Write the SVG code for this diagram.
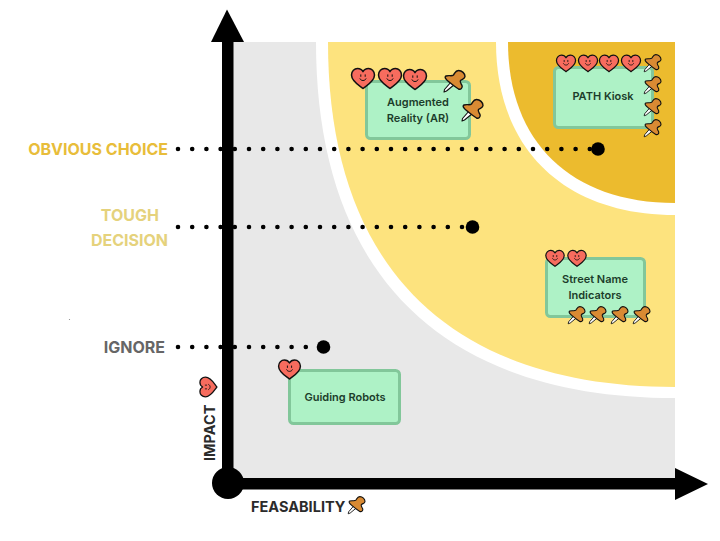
<svg xmlns="http://www.w3.org/2000/svg" width="720" height="541" viewBox="0 0 720 541">
<style>
text{font-family:"Inter","Liberation Sans",sans-serif;font-weight:600}
.card{fill:#aef2c6;stroke:#82c79a;stroke-width:3}
.cl{font-size:11px;fill:#1c3d2b;text-anchor:middle}
.lv{font-size:16px;font-weight:700;text-anchor:end}
.ax{font-size:14.5px;font-weight:700;fill:#2b2b2b}
.dots{fill:none;stroke:#000;stroke-width:4.6;stroke-linecap:round;stroke-dasharray:0 14.2}
.hb{fill:#f76c5e;stroke:#111;stroke-width:1.5;stroke-linejoin:round}
.f{fill:none;stroke:#111;stroke-width:1;stroke-linecap:round}
.pb{fill:#d98a33;stroke:#111;stroke-width:1.4;stroke-linejoin:round}
.pn{fill:#fff;stroke:#111;stroke-width:1.1;stroke-linejoin:round}
</style>
<defs>
<symbol id="heart" overflow="visible">
<path class="hb" d="M0 10.500C-3 8-11.500 3.500-11.500-3C-11.500-7-8.500-9.500-5.500-9.500C-3-9.500-1-8.300 0-6.300C1-8.300 3-9.500 5.500-9.500C8.500-9.500 11.500-7 11.500-3C11.500 3.500 3 8 0 10.500Z"/>
<path class="f" d="M-2.200-3.200v1.600M2.200-3.200v1.600M-3 .8C-2 3.200 2 3.200 3 .8"/>
</symbol>
<symbol id="pin" overflow="visible">
<path class="pn" d="M-3.500 .5L-10.500 8.500L-11 11L-8.500 10L-.5 3.500Z"/>
<path class="pb" d="M-9-5C-6-6-3-4.500-1.500-6C0-8 .5-10.500 3.500-10.500C7-10.500 10-7.500 10-4.500C10-2 7-2 5.500-.5C4.500 1 6 2.500 7 4.500C8 7 5.500 9 3.500 8C0 6-3.500 3-6.500 .5C-9-1.500-11-4-9-5Z"/>
</symbol>
</defs>
<rect width="720" height="541" fill="#fff"/>
<g id="background">
<rect x="233" y="42" width="442" height="436" fill="#e8e8e8"/>
<path d="M316 42C316 274 442 398 675 398V42Z" fill="#fff"/>
<path d="M328 42C328 267 450 387 675 387V42Z" fill="#fde37e"/>
<path d="M496 42C496 149 564 215 675 215V42Z" fill="#fff"/>
<path d="M508 42C508 142 571 203 675 203V42Z" fill="#ecbb2e"/>
<circle cx="69.500" cy="319.500" r=".6" fill="#888"/>
</g>
<g id="connectors">
<path class="dots" d="M178 149H598"/>
<path class="dots" d="M178 227H472"/>
<path class="dots" d="M178 347H324"/>
<circle cx="598" cy="149" r="6.800"/>
<circle cx="472.500" cy="227" r="6.800"/>
<circle cx="323.500" cy="347" r="6.800"/>
</g>
<g id="axes">
<path d="M222 42H233.500V478H675V489.500H228Q222 489.500 222 484Z"/>
<path d="M227 9.500L244 42H211Z"/>
<path d="M675 468L708 484L675 500Z"/>
<circle cx="228" cy="483" r="16"/>
</g>
<g id="level-labels">
<text id="obvious-choice" class="lv" x="168" y="155" fill="#e8bd3a">OBVIOUS CHOICE</text>
<text id="tough-decision" class="lv" fill="#e5d27c"><tspan x="159" y="221">TOUGH</tspan><tspan x="168" y="246">DECISION</tspan></text>
<text id="ignore" class="lv" x="165" y="353" fill="#666">IGNORE</text>
</g>
<g id="augmented-reality">
<rect class="card" x="366.500" y="81.500" width="103" height="57" rx="4"/>
<text class="cl"><tspan x="418" y="106">Augmented</tspan><tspan x="418" y="122">Reality (AR)</tspan></text>
<use href="#heart" x="363" y="78"/><use href="#heart" x="390" y="78"/><use href="#heart" x="415" y="79"/>
<use href="#pin" x="455" y="81"/><use href="#pin" x="473" y="110"/>
</g>
<g id="path-kiosk">
<rect class="card" x="554.500" y="67.500" width="98" height="60" rx="4"/>
<text class="cl" x="603" y="100">PATH Kiosk</text>
<use href="#heart" transform="translate(566 63) scale(.83)"/><use href="#heart" transform="translate(588 63) scale(.83)"/><use href="#heart" transform="translate(609 63) scale(.83)"/><use href="#heart" transform="translate(631 63) scale(.83)"/>
<use href="#pin" transform="translate(653 63) scale(.8)"/><use href="#pin" transform="translate(653 85) scale(.8)"/><use href="#pin" transform="translate(653 107) scale(.8)"/><use href="#pin" transform="translate(653 128) scale(.8)"/>
</g>
<g id="street-name-indicators">
<rect class="card" x="546.500" y="258.500" width="98" height="58" rx="4"/>
<text class="cl"><tspan x="595" y="283">Street Name</tspan><tspan x="595" y="299">Indicators</tspan></text>
<use href="#heart" transform="translate(555 258) scale(.8)"/><use href="#heart" transform="translate(577 258) scale(.8)"/>
<use href="#pin" transform="translate(577 315) scale(.8)"/><use href="#pin" transform="translate(598 315) scale(.8)"/><use href="#pin" transform="translate(620 315) scale(.8)"/><use href="#pin" transform="translate(642 315) scale(.8)"/>
</g>
<g id="guiding-robots">
<rect class="card" x="289.500" y="370.500" width="110" height="53" rx="4"/>
<text class="cl" x="345" y="401">Guiding Robots</text>
<use href="#heart" transform="translate(289.500 369) scale(.95)"/>
</g>
<g id="impact-axis-label">
<text class="ax" transform="translate(215 461) rotate(-90)">IMPACT</text>
<use href="#heart" transform="translate(208 387) rotate(-90) scale(.85)"/>
</g>
<g id="feasability-axis-label">
<text class="ax" x="251" y="512">FEASABILITY</text>
<use href="#pin" transform="translate(357 505) scale(.8)"/>
</g>
</svg>
